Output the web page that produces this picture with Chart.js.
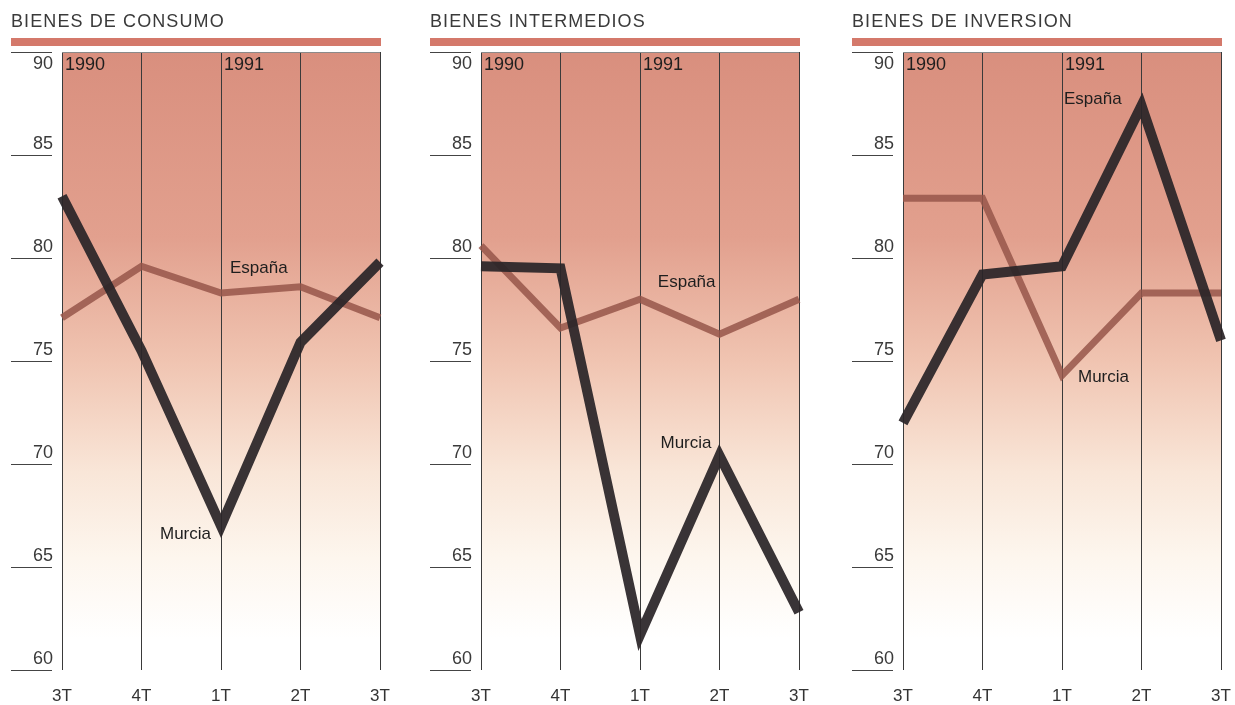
<!DOCTYPE html>
<html>
<head>
<meta charset="utf-8">
<script src="https://cdn.jsdelivr.net/npm/chart.js@4.4.1/dist/chart.umd.min.js"></script>
<style>
  body { margin: 0; background: #fff; }
  .panel { position: absolute; top: 0; width: 394px; height: 705px; }
</style>
</head>
<body>
<div class="panel" style="left:0px"><canvas id="c1"></canvas></div>
<div class="panel" style="left:419px"><canvas id="c2"></canvas></div>
<div class="panel" style="left:841px"><canvas id="c3"></canvas></div>
<script>
const quarters = ['3T', '4T', '1T', '2T', '3T'];
const yearLabels = ['1990', '', '1991', '', ''];
const yTicks = [60, 65, 70, 75, 80, 85, 90];

const titles = ['BIENES DE CONSUMO', 'BIENES INTERMEDIOS', 'BIENES DE INVERSION'];

// dark line / brown line for each panel
const consumoOscura = [83.0, 75.5, 67.0, 75.9, 79.8];
const consumoClara = [77.1, 79.6, 78.3, 78.6, 77.1];
const intermediosOscura = [79.6, 79.5, 61.7, 70.4, 62.8];
const intermediosClara = [80.6, 76.6, 78.0, 76.3, 78.0];
const inversionOscura = [72.0, 79.2, 79.6, 87.4, 76.0];
const inversionClara = [82.9, 82.9, 74.3, 78.3, 78.3];

// text labels next to the lines: [text, quarter index, value, gap from the gridline]
const consumoNotes = [['España', 2, 79.5, 9], ['Murcia', 2, 66.6, -10]];
const intermediosNotes = [['España', 3, 78.8, -4], ['Murcia', 3, 71.0, -8]];
const inversionNotes = [['España', 2, 87.7, 2], ['Murcia', 2, 74.2, 16]];

const FONT = '"Liberation Sans", Arial, Helvetica, sans-serif';

const paperPlugin = {
  id: 'paper',
  beforeDraw(chart) {
    const { ctx, chartArea: a } = chart;
    const g = ctx.createLinearGradient(0, a.top, 0, a.bottom);
    g.addColorStop(0, '#d98f7e');
    g.addColorStop(0.3, '#e2a08e');
    g.addColorStop(0.5, '#f0c4b1');
    g.addColorStop(0.68, '#f9e6d8');
    g.addColorStop(0.82, '#fdf6ee');
    g.addColorStop(0.95, '#ffffff');
    ctx.save();
    ctx.fillStyle = g;
    ctx.fillRect(a.left, a.top, a.right - a.left, a.bottom - a.top);
    ctx.restore();
  },
  afterDraw(chart, args, opts) {
    const { ctx, chartArea: a } = chart;
    const y = chart.scales.y;
    const x = chart.scales.x;
    ctx.save();
    // title and bar
    ctx.fillStyle = '#3a3a3a';
    ctx.font = '18px ' + FONT;
    ctx.letterSpacing = '1.1px';
    ctx.textBaseline = 'middle';
    ctx.textAlign = 'left';
    ctx.fillText(opts.title, a.left - 51, 22);
    ctx.letterSpacing = '0px';
    ctx.fillStyle = '#d4796b';
    ctx.fillRect(a.left - 51, 38, a.right - a.left + 52, 8);
    // top edge
    ctx.strokeStyle = '#8a8a8a';
    ctx.lineWidth = 1;
    ctx.beginPath();
    ctx.moveTo(a.left, a.top + 0.5);
    ctx.lineTo(a.right, a.top + 0.5);
    ctx.stroke();
    // y ticks: underline plus number
    ctx.font = '18px ' + FONT;
    ctx.textAlign = 'right';
    ctx.strokeStyle = '#444';
    y.ticks.forEach(t => {
      const py = Math.round(y.getPixelForValue(t.value)) + 0.5;
      ctx.beginPath();
      ctx.moveTo(a.left - 51, py);
      ctx.lineTo(a.left - 10, py);
      ctx.stroke();
      ctx.fillStyle = '#3a3a3a';
      const ly = t.value === y.max ? py + 12 : py - 11;
      ctx.fillText(String(t.value), a.left - 9, ly);
    });
    // years
    ctx.font = '18px ' + FONT;
    ctx.textAlign = 'left';
    ctx.fillStyle = '#1e1e1e';
    yearLabels.forEach((yr, i) => {
      if (yr) ctx.fillText(yr, x.getPixelForValue(i) + 3, a.top + 13);
    });
    // series notes
    ctx.font = '17px ' + FONT;
    opts.notes.forEach(([text, i, v, gap]) => {
      const px = x.getPixelForValue(i);
      const py = y.getPixelForValue(v);
      ctx.textAlign = gap >= 0 ? 'left' : 'right';
      ctx.fillText(text, px + gap, py);
    });
    ctx.restore();
  }
};

function makeChart(id, title, dark, light, notes) {
  return new Chart(document.getElementById(id), {
    type: 'line',
    data: {
      labels: quarters,
      datasets: [
        {
          data: dark,
          borderColor: 'rgba(42,37,40,0.93)',
          borderWidth: 10,
          borderJoinStyle: 'miter',
          borderCapStyle: 'butt',
          pointRadius: 0,
          tension: 0
        },
        {
          data: light,
          borderColor: 'rgba(150,86,74,0.85)',
          borderWidth: 7,
          borderJoinStyle: 'miter',
          borderCapStyle: 'butt',
          pointRadius: 0,
          tension: 0
        }
      ]
    },
    options: {
      responsive: true,
      maintainAspectRatio: false,
      animation: false,
      layout: { padding: { top: 52, right: 14, left: 0, bottom: 0 } },
      plugins: {
        legend: { display: false },
        tooltip: { enabled: false },
        paper: { title, notes }
      },
      scales: {
        x: {
          offset: false,
          grid: { color: '#3a3a3a', lineWidth: 1, drawTicks: false, offset: false },
          border: { display: false },
          ticks: { color: '#333', font: { size: 17, family: FONT }, padding: 16, maxRotation: 0 },
          afterFit(s) { s.height = 35; s.paddingLeft = 0; s.paddingRight = 0; }
        },
        y: {
          min: 60,
          max: 90,
          afterBuildTicks(s) { s.ticks = yTicks.map(v => ({ value: v })); },
          ticks: { display: false },
          grid: { display: false },
          border: { display: false },
          afterFit(s) { s.width = 62; }
        }
      }
    },
    plugins: [paperPlugin]
  });
}

makeChart('c1', titles[0], consumoOscura, consumoClara, consumoNotes);
makeChart('c2', titles[1], intermediosOscura, intermediosClara, intermediosNotes);
makeChart('c3', titles[2], inversionOscura, inversionClara, inversionNotes);
</script>
</body>
</html>
